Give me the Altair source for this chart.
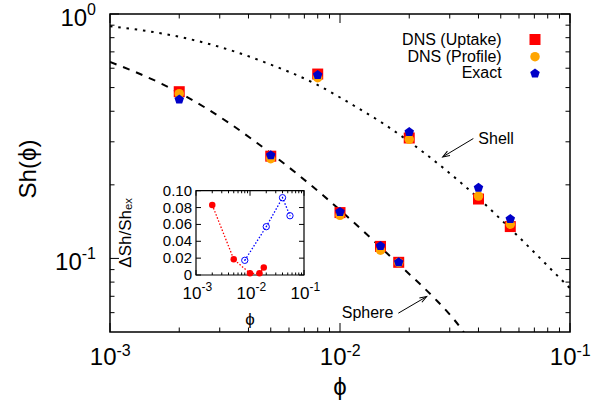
import altair as alt
import pandas as pd

FONT = "Liberation Sans"

# ---------------- values ----------------
phi_dns    = [0.002, 0.005, 0.008, 0.010, 0.015, 0.018, 0.020, 0.040, 0.055]
sh_uptake  = [0.481, 0.262, 0.568, 0.154, 0.112, 0.0964, 0.311, 0.175, 0.135]
sh_profile = [0.472, 0.256, 0.549, 0.150, 0.108, 0.0962, 0.307, 0.180, 0.138]
sh_exact   = [0.447, 0.2645, 0.563, 0.155, 0.1124, 0.0964, 0.329, 0.1945, 0.145]

sphere_phi = [0.001, 0.001222, 0.001679, 0.002156, 0.003325, 0.004345, 0.006486,
              0.00846, 0.01069, 0.01396, 0.01823, 0.02588, 0.02957, 0.0339, 0.03496]
sphere_sh  = [0.636, 0.591, 0.518, 0.458, 0.356, 0.2975, 0.2223,
              0.1808, 0.1491, 0.1184, 0.0936, 0.0684, 0.0599, 0.0511, 0.0490]

shell_phi = [0.001, 0.001396, 0.002083, 0.003436, 0.004801, 0.007784, 0.01182,
             0.01543, 0.01975, 0.03928, 0.06063, 0.0935, 0.1]
shell_sh  = [0.891, 0.856, 0.800, 0.705, 0.630, 0.519, 0.415,
             0.356, 0.303, 0.179, 0.121, 0.0804, 0.0755]

# inset: relative error
err_sphere_phi = [0.002, 0.005, 0.010, 0.015, 0.018]
err_sphere     = [0.083, 0.0186, 0.002, 0.002, 0.009]
err_shell_phi  = [0.008, 0.020, 0.040, 0.055]
err_shell      = [0.0174, 0.0573, 0.0917, 0.0703]

# ticks / labels
main_x_major = [0.001, 0.01, 0.1]
main_x_exp = ["-3", "-2", "-1"]
main_x_minor = [0.002, 0.003, 0.004, 0.005, 0.006, 0.007, 0.008, 0.009,
                0.02, 0.03, 0.04, 0.05, 0.06, 0.07, 0.08, 0.09]
main_y_major = [1.0, 0.1]
main_y_exp = ["0", "-1"]
main_y_minor = [0.06, 0.07, 0.08, 0.09, 0.2, 0.3, 0.4, 0.5, 0.6, 0.7, 0.8, 0.9]
inset_y_ticks = [0.0, 0.02, 0.04, 0.06, 0.08, 0.10]
inset_y_labels = ["0", "0.02", "0.04", "0.06", "0.08", "0.10"]

legend_labels = ["DNS (Uptake)", "DNS (Profile)", "Exact"]
shell_arrow = {"x": [0.038], "y": [0.3094], "x2": [0.02796], "y2": [0.2603]}
sphere_arrow = {"x": [0.01793], "y": [0.0597], "x2": [0.02382], "y2": [0.0698]}

# ---------------- layout ----------------
W, H = 460, 318
RED, ORANGE, BLUE = "#ff0000", "#ffa500", "#0000c8"
PENT = "M0,-1 L0.951,-0.309 L0.588,0.809 L-0.588,0.809 L-0.951,-0.309 Z"
ARROW = "M-1,-0.36 L0,0 L-1,0.36"

xs = alt.Scale(type="log", domain=[0.001, 0.1], nice=False)
ys = alt.Scale(type="log", domain=[0.05, 1.0], nice=False)
xi = alt.Scale(type="log", domain=[0.001, 0.1], range=[86, 194], nice=False)
yi = alt.Scale(type="linear", domain=[0, 0.1], range=[261, 176.7], nice=False, zero=False)


def xq(f, sc=xs):
    return alt.X(f, type="quantitative", scale=sc, axis=None)


def yq(f, sc=ys):
    return alt.Y(f, type="quantitative", scale=sc, axis=None)


def one(text):
    return pd.DataFrame({"t": [text]})


layers = []

# theory curves
layers.append(alt.Chart(pd.DataFrame({"phi": sphere_phi, "sh": sphere_sh})).mark_line(
    color="black", strokeWidth=2, strokeDash=[7, 7], clip=True, interpolate="monotone"
).encode(x=xq("phi"), y=yq("sh")))
layers.append(alt.Chart(pd.DataFrame({"phi": shell_phi, "sh": shell_sh})).mark_line(
    color="black", strokeWidth=2, strokeDash=[2.5, 5.8], clip=True, interpolate="monotone"
).encode(x=xq("phi"), y=yq("sh")))

# data points
dns = pd.DataFrame({"phi": phi_dns, "up": sh_uptake, "pr": sh_profile, "ex": sh_exact})
layers.append(alt.Chart(dns).mark_point(shape="square", filled=True, color=RED, size=121, opacity=1)
              .encode(x=xq("phi"), y=yq("up")))
layers.append(alt.Chart(dns).mark_point(shape="circle", filled=True, color=ORANGE, size=90, opacity=1)
              .encode(x=xq("phi"), y=yq("pr")))
layers.append(alt.Chart(dns).mark_point(shape=PENT, filled=True, color=BLUE, size=100, opacity=1)
              .encode(x=xq("phi"), y=yq("ex")))

# main ticks (inward, mirrored)
for vals, L in [(main_x_major, 9), (main_x_minor, 4.5)]:
    d = pd.DataFrame({"v": vals})
    layers.append(alt.Chart(d).mark_rule(color="black", strokeWidth=1)
                  .encode(x=xq("v"), y=alt.value(H), y2=alt.value(H - L)))
    layers.append(alt.Chart(d).mark_rule(color="black", strokeWidth=1)
                  .encode(x=xq("v"), y=alt.value(0), y2=alt.value(L)))
for vals, L in [(main_y_major, 9), (main_y_minor, 4.5)]:
    d = pd.DataFrame({"v": vals})
    layers.append(alt.Chart(d).mark_rule(color="black", strokeWidth=1)
                  .encode(y=yq("v"), x=alt.value(0), x2=alt.value(L)))
    layers.append(alt.Chart(d).mark_rule(color="black", strokeWidth=1)
                  .encode(y=yq("v"), x=alt.value(W), x2=alt.value(W - L)))

# main tick labels
xl = pd.DataFrame({"v": main_x_major, "b": ["10"] * 3, "e": main_x_exp})
layers.append(alt.Chart(xl).mark_text(align="right", baseline="alphabetic", fontSize=24, dx=6.5)
              .encode(x=xq("v"), y=alt.value(351), text="b:N"))
layers.append(alt.Chart(xl).mark_text(align="left", baseline="alphabetic", fontSize=16, dx=6.5)
              .encode(x=xq("v"), y=alt.value(341.5), text="e:N"))
for v, e in zip(main_y_major, main_y_exp):
    supw = 16 * (0.556 * sum(c.isdigit() for c in e) + 0.333 * e.count("-"))
    d = pd.DataFrame({"v": [v], "b": ["10"], "e": [e]})
    layers.append(alt.Chart(d).mark_text(align="right", baseline="alphabetic", fontSize=24, dy=11.5)
                  .encode(x=alt.value(-14 - supw), y=yq("v"), text="b:N"))
    layers.append(alt.Chart(d).mark_text(align="right", baseline="alphabetic", fontSize=16, dy=1.0)
                  .encode(x=alt.value(-14), y=yq("v"), text="e:N"))

# axis titles
layers.append(alt.Chart(one("\u03d5")).mark_text(align="center", baseline="middle", fontSize=24)
              .encode(x=alt.value(W / 2), y=alt.value(374), text="t:N"))
layers.append(alt.Chart(one("Sh(\u03d5)")).mark_text(align="center", baseline="middle", fontSize=24, angle=270)
              .encode(x=alt.value(-81), y=alt.value(155), text="t:N"))

# annotations
for arr, txt, ang, al, dx in [(shell_arrow, "Shell", 149, "left", 5), (sphere_arrow, "Sphere", 330, "right", -5)]:
    d = pd.DataFrame(arr)
    layers.append(alt.Chart(d).mark_rule(color="black", strokeWidth=1)
                  .encode(x=xq("x"), y=yq("y"), x2="x2", y2="y2"))
    layers.append(alt.Chart(d).mark_point(shape=ARROW, filled=False, stroke="black", strokeWidth=1,
                                          size=196, angle=ang, opacity=1)
                  .encode(x=xq("x2"), y=yq("y2")))
    layers.append(alt.Chart(d.assign(t=txt)).mark_text(align=al, baseline="middle", fontSize=16, dx=dx)
                  .encode(x=xq("x"), y=yq("y"), text="t:N"))

# legend
leg_text_y = [31, 47.7, 64.3]
leg_sym_y = [25.5, 42.7, 59.5]
for lab, ty, sy, shp, col, sz in zip(legend_labels, leg_text_y, leg_sym_y,
                                      ["square", "circle", PENT], [RED, ORANGE, BLUE], [121, 90, 100]):
    layers.append(alt.Chart(one(lab)).mark_text(align="right", baseline="alphabetic", fontSize=16)
                  .encode(x=alt.value(391.7), y=alt.value(ty), text="t:N"))
    layers.append(alt.Chart(one(lab)).mark_point(shape=shp, filled=True, color=col, size=sz, opacity=1)
                  .encode(x=alt.value(425), y=alt.value(sy)))

# ---------------- inset ----------------
frame = pd.DataFrame({"x0": [0.001], "x1": [0.1], "y0": [0.0], "y1": [0.1]})
layers.append(alt.Chart(frame).mark_rect(fill="white", stroke="black", strokeWidth=1.2)
              .encode(x=xq("x0", xi), x2="x1", y=yq("y0", yi), y2="y1"))

for vals, L in [(main_x_major, 5), (main_x_minor, 2.5)]:
    d = pd.DataFrame({"v": vals})
    layers.append(alt.Chart(d).mark_tick(orient="vertical", size=L, thickness=1, color="black",
                                         opacity=1, yOffset=-L / 2)
                  .encode(x=xq("v", xi), y=alt.YDatum(0.0, scale=yi, axis=None)))
    layers.append(alt.Chart(d).mark_tick(orient="vertical", size=L, thickness=1, color="black",
                                         opacity=1, yOffset=L / 2)
                  .encode(x=xq("v", xi), y=alt.YDatum(0.1, scale=yi, axis=None)))
d = pd.DataFrame({"v": inset_y_ticks, "lab": inset_y_labels})
layers.append(alt.Chart(d).mark_tick(orient="horizontal", size=5, thickness=1, color="black",
                                     opacity=1, xOffset=2.5)
              .encode(y=yq("v", yi), x=alt.XDatum(0.001, scale=xi, axis=None)))
layers.append(alt.Chart(d).mark_tick(orient="horizontal", size=5, thickness=1, color="black",
                                     opacity=1, xOffset=-2.5)
              .encode(y=yq("v", yi), x=alt.XDatum(0.1, scale=xi, axis=None)))
layers.append(alt.Chart(d).mark_text(align="right", baseline="middle", fontSize=15, dx=-4)
              .encode(y=yq("v", yi), x=alt.XDatum(0.001, scale=xi, axis=None), text="lab:N"))

il = pd.DataFrame({"v": main_x_major, "b": ["10"] * 3, "e": main_x_exp})
layers.append(alt.Chart(il).mark_text(align="right", baseline="alphabetic", fontSize=17, dx=5.5, dy=24)
              .encode(x=xq("v", xi), y=alt.YDatum(0.0, scale=yi, axis=None), text="b:N"))
layers.append(alt.Chart(il).mark_text(align="left", baseline="alphabetic", fontSize=12, dx=5.5, dy=16)
              .encode(x=xq("v", xi), y=alt.YDatum(0.0, scale=yi, axis=None), text="e:N"))
layers.append(alt.Chart(one("\u03d5")).mark_text(align="center", baseline="middle", fontSize=17, dy=45)
              .encode(x=alt.XDatum(0.01, scale=xi, axis=None), y=alt.YDatum(0.0, scale=yi, axis=None), text="t:N"))
layers.append(alt.Chart(one("\u0394Sh/Sh\u2091\u2093")).mark_text(align="center", baseline="middle",
                                                                  fontSize=17, angle=270)
              .encode(x=alt.value(16), y=alt.YDatum(0.05, scale=yi, axis=None), text="t:N"))

es = pd.DataFrame({"phi": err_sphere_phi, "e": err_sphere})
eh = pd.DataFrame({"phi": err_shell_phi, "e": err_shell})
layers.append(alt.Chart(es).mark_line(color=RED, strokeWidth=1.3, strokeDash=[1.5, 1.8])
              .encode(x=xq("phi", xi), y=yq("e", yi)))
layers.append(alt.Chart(eh).mark_line(color="#0000ff", strokeWidth=1.3, strokeDash=[1.5, 1.8])
              .encode(x=xq("phi", xi), y=yq("e", yi)))
layers.append(alt.Chart(es).mark_point(shape="circle", filled=True, color=RED, size=42, opacity=1)
              .encode(x=xq("phi", xi), y=yq("e", yi)))
layers.append(alt.Chart(eh).mark_point(shape="circle", filled=False, color="#0000ff", size=40,
                                       strokeWidth=1, opacity=1)
              .encode(x=xq("phi", xi), y=yq("e", yi)))
layers.append(alt.Chart(eh).mark_point(shape="circle", filled=True, color="#0000ff", size=1.5, opacity=1)
              .encode(x=xq("phi", xi), y=yq("e", yi)))

chart = (
    alt.layer(*layers)
    .resolve_scale(x="independent", y="independent")
    .properties(width=W, height=H,
                padding={"left": 110, "top": 14, "right": 37, "bottom": 77},
                autosize=alt.AutoSizeParams(type="none"),
                background="white")
    .configure_view(stroke="black", strokeWidth=1.5)
    .configure_text(font=FONT, color="black")
)

chart.save("out.html", embed_options={"renderer": "svg", "actions": False})
